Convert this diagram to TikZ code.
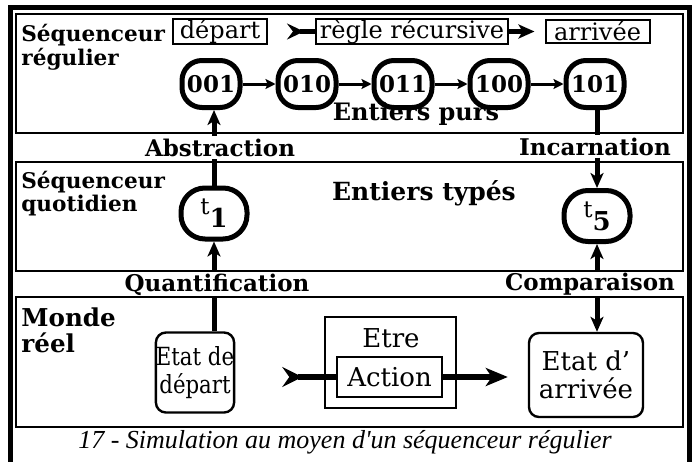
\documentclass[tikz,border=0pt]{standalone}
\usepackage{fontspec}
\setmainfont{DejaVu Serif}
\newfontfamily\narrowfont[FakeStretch=0.85]{DejaVu Serif}
\newfontfamily\captionfont{Liberation Serif}
\usetikzlibrary{arrows.meta, positioning}

\newcommand{\tindice}[1]{{\mdseries\fontsize{11.5}{12}\selectfont t}\raisebox{-6.5pt}{\bfseries\fontsize{13}{13}\selectfont #1}}

\begin{document}
\begin{tikzpicture}[x=0.5pt, y=-0.5pt,
  cadre/.style={line width=2.5pt},
  couche/.style={line width=1.1pt},
  titre/.style={font=\bfseries\fontsize{10.8}{10}\selectfont, align=left, anchor=base west, inner sep=0pt},
  passage/.style={font=\bfseries\fontsize{11.5}{12}\selectfont, anchor=base, inner sep=1pt},
  etiquette/.style={draw, line width=1pt, inner xsep=2pt, inner ysep=0pt, minimum height=11.5pt, font=\fontsize{12}{12}\selectfont},
  entier/.style={draw, line width=2.5pt, rounded corners=10pt, minimum width=29pt, minimum height=23.5pt, inner sep=0pt, font=\bfseries\fontsize{11.5}{12}\selectfont},
  indice/.style={entier, rounded corners=12pt, minimum width=33pt, minimum height=25.5pt},
  etat/.style={draw, line width=1.2pt, rounded corners=5pt, align=center, inner sep=0pt, font=\fontsize{13}{14}\selectfont},
  boite/.style={draw, line width=1pt, inner sep=0pt, font=\fontsize{13}{14}\selectfont},
  suite/.style={line width=1.5pt, -{Stealth[length=5pt, width=5pt, inset=1pt]}},
  queue/.style={line width=2.5pt, {Stealth[reversed, length=8.5pt, width=8pt, inset=3pt]}-},
  fleche/.style={line width=2.5pt, -{Stealth[length=8pt, width=7pt, inset=2pt]}},
  lien/.style={line width=2.5pt},
  montee/.style={line width=2.5pt, -{Stealth[length=7.5pt, width=6.5pt, inset=2pt]}}
]
  \useasboundingbox (0,0) rectangle (695,461);
  \draw[cadre] (10.5,470) |- (689.5,7.5) -- (689.5,470);

  % Sequenceur regulier
  \draw[couche] (16,14) rectangle (683,133);
  \node[titre] (seqreg) at (21,65) {Séquenceur\\régulier};
  \node[etiquette, minimum width=47pt] (dep) at (220,31.5) {départ};
  \node[etiquette, minimum width=94pt] (regle) at (412,31.5) {règle récursive};
  \node[etiquette, minimum width=52pt] (arr) at (597.5,31.5) {arrivée};
  \draw[queue, shorten <=9.5pt] (dep) -- (regle);
  \draw[fleche, shorten >=5pt] (regle) -- (arr);
  \node[entier] (n1) at (211,84) {001};
  \node[entier] (n2) at (307,84) {010};
  \node[entier] (n3) at (403,84) {011};
  \node[entier] (n4) at (499,84) {100};
  \node[entier] (n5) at (595,84) {101};
  \draw[suite] (n1) -- (n2);
  \draw[suite] (n2) -- (n3);
  \draw[suite] (n3) -- (n4);
  \draw[suite] (n4) -- (n5);
  \node[passage, font=\bfseries\fontsize{12}{12}\selectfont] (purs) at (416,120) {Entiers purs};

  % Sequenceur quotidien
  \draw[couche] (16,162) rectangle (683,271);
  \node[titre] (seqquot) at (21,211) {Séquenceur\\quotidien};
  \node[indice] (t1) at (214,213.5) {\tindice{1}};
  \node[indice] (t5) at (597,216) {\tindice{5}};
  \node[passage, font=\bfseries\fontsize{12.5}{12}\selectfont] (types) at (424,200) {Entiers typés};

  % Monde reel
  \draw[couche] (16,297) rectangle (683,427);
  \node[titre, font=\bfseries\fontsize{12.3}{13}\selectfont] (monde) at (21,352) {Monde\\réel};
  \node[etat, minimum width=37pt, minimum height=40pt, font=\narrowfont\fontsize{12.5}{14}\selectfont] (etatdep) at (195,372.5) {Etat de\\départ};
  \node[boite, minimum width=65.5pt, minimum height=45.5pt] (etre) at (390.5,362.5) {};
  \node[font=\fontsize{13}{14}\selectfont, anchor=base] (etrelbl) at (391,347) {Etre};
  \node[boite, minimum width=52.5pt, minimum height=20pt] (action) at (389.5,377) {Action};
  \node[etat, minimum width=57pt, minimum height=42pt] (etatarr) at (586,375) {Etat d'\\arrivée};
  \draw[queue, line width=3pt, {Stealth[reversed, length=10pt, width=10pt, inset=3.5pt]}-, shorten <=23.5pt] (etatdep.east |- action.west) -- (action.west);
  \draw[fleche, line width=3pt, -{Stealth[length=11pt, width=9pt, inset=3pt]}, shorten >=10pt] (action.east) -- (etatarr.west |- action.east);

  % Passages entre couches
  \node[passage] (abstr) at (220,156) {Abstraction};
  \node[passage] (incarn) at (595,155) {Incarnation};
  \node[passage] (quant) at (217,291) {Quantification};
  \node[passage] (compar) at (590,290) {Comparaison};
  \draw[lien] (etatdep.north -| t1) -- (quant.south -| t1);
  \draw[montee] (quant.north -| t1) -- (t1.south);
  \draw[lien] (t1.north) -- (abstr.south -| t1);
  \draw[montee] (abstr.north -| t1) -- (n1.south -| t1);
  \draw[lien] (n5.south -| t5) -- (incarn.north -| t5);
  \draw[montee] (incarn.south -| t5) -- (t5.north);
  \draw[montee] (compar.north -| t5) -- (t5.south);
  \draw[montee] (compar.south -| t5) -- (etatarr.north -| t5);

  \node[font=\captionfont\itshape\fontsize{13}{15}\selectfont, anchor=base] (legende) at (345,448) {17 - Simulation au moyen d'un séquenceur régulier};
\end{tikzpicture}
\end{document}
